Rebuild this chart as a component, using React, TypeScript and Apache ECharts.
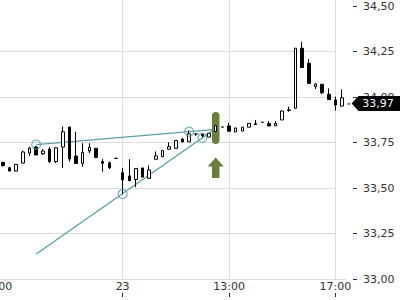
import React, { useEffect, useRef } from 'react';
import * as echarts from 'echarts';

// 15-minute bars: afternoon of the 22nd, then the 23rd
const CATEGORIES = [
  '22 13:00', '22 13:15', '22 13:30', '22 13:45', '22 14:00', '22 14:15', '22 14:30', '22 14:45',
  '22 15:00', '22 15:15', '22 15:30', '22 15:45', '22 16:00', '22 16:15', '22 16:30', '22 16:45',
  '22 17:00', '22 17:15', '22 17:30',
  '23 09:00', '23 09:15', '23 09:30', '23 09:45', '23 10:00', '23 10:15', '23 10:30', '23 10:45',
  '23 11:00', '23 11:15', '23 11:30', '23 11:45', '23 12:00', '23 12:15', '23 12:30', '23 12:45',
  '23 13:00', '23 13:15', '23 13:30', '23 13:45', '23 14:00', '23 14:15', '23 14:30', '23 14:45',
  '23 15:00', '23 15:15', '23 15:30', '23 15:45', '23 16:00', '23 16:15', '23 16:30', '23 16:45',
  '23 17:00', '23 17:15',
];

// candles from '22 13:15' onward (the '22 13:00' bar lies outside the view)
const OPEN = [
  33.641, 33.611, 33.593, 33.637, 33.692, 33.725, 33.688, 33.714, 33.645, 33.725,
  33.835, 33.676, 33.635, 33.703, 33.718, 33.645, 33.639, 33.663,
  33.584, 33.566, 33.547, 33.610, 33.553, 33.658, 33.672, 33.713, 33.718, 33.768,
  33.754, 33.797, 33.794, 33.780, 33.811, 33.835, 33.841, 33.808, 33.813, 33.834,
  33.853, 33.861, 33.855, 33.842, 33.874, 33.929, 33.938, 34.268, 34.185, 34.057,
  34.070, 34.015, 33.984, 33.950,
];
const CLOSE = [
  33.623, 33.593, 33.630, 33.698, 33.720, 33.681, 33.703, 33.645, 33.721, 33.809,
  33.659, 33.635, 33.696, 33.724, 33.668, 33.636, 33.611, 33.663,
  33.544, 33.540, 33.607, 33.560, 33.599, 33.676, 33.706, 33.727, 33.761, 33.753,
  33.798, 33.797, 33.787, 33.801, 33.843, 33.835, 33.812, 33.830, 33.834, 33.855,
  33.849, 33.861, 33.841, 33.855, 33.923, 33.926, 34.268, 34.162, 34.075, 34.071,
  34.023, 33.986, 33.956, 33.996,
];
const LOW = [
  33.617, 33.593, 33.592, 33.636, 33.676, 33.681, 33.681, 33.637, 33.637, 33.610,
  33.645, 33.635, 33.617, 33.691, 33.668, 33.590, 33.604, 33.663,
  33.467, 33.540, 33.505, 33.560, 33.553, 33.658, 33.672, 33.713, 33.718, 33.753,
  33.754, 33.786, 33.777, 33.780, 33.811, 33.835, 33.812, 33.808, 33.813, 33.834,
  33.849, 33.861, 33.841, 33.842, 33.874, 33.919, 33.938, 34.162, 34.075, 34.044,
  34.015, 33.986, 33.925, 33.950,
];
const HIGH = [
  33.643, 33.617, 33.631, 33.705, 33.727, 33.732, 33.714, 33.725, 33.722, 33.838,
  33.836, 33.809, 33.746, 33.746, 33.718, 33.658, 33.645, 33.663,
  33.610, 33.658, 33.607, 33.610, 33.624, 33.701, 33.706, 33.751, 33.761, 33.775,
  33.816, 33.797, 33.802, 33.801, 33.843, 33.835, 33.857, 33.830, 33.834, 33.855,
  33.874, 33.861, 33.868, 33.868, 33.925, 33.947, 34.268, 34.304, 34.209, 34.075,
  34.070, 34.048, 34.002, 34.042,
];

const TICK_LABELS: Record<string, string> = {
  '22 13:00': '13:00',
  '23 09:00': '23',
  '23 13:00': '13:00',
  '23 17:00': '17:00',
};
const V_GRID_TIMES = ['23 09:00', '23 13:00', '23 17:00'];
const H_GRID_PRICES = [33.25, 33.5, 33.75, 34.0, 34.25];
const H_GRID_FROM = '22 13:00';
const H_GRID_TO = '23 17:00';
const TOP_LABEL = 34.5;

const UPPER_TREND = [['22 14:30', 33.738], ['23 12:30', 33.8225]];
const LOWER_TREND = [['22 14:30', 33.137], ['23 12:30', 33.827]];
const TOUCH_POINTS = [['22 14:30', 33.738], ['23 11:30', 33.81], ['23 12:00', 33.776], ['23 09:00', 33.467]];
// [time, marker top, marker bottom, arrow tip, arrow tail]
const SIGNAL = [['23 12:30', 33.918, 33.742, 33.668, 33.555]];
const LAST_PRICE = 33.97;
const LAST_TIME = '23 17:15';

const TEAL = '#5c9fa8';
const GREEN = '#6c7e3b';
const GRID_COLOR = '#dcdcdc';
const FONT = 'DejaVu Sans';

export default function App() {
  const ref = useRef<HTMLDivElement>(null);

  useEffect(() => {
    if (!ref.current) return;
    const chart = echarts.init(ref.current, undefined, { renderer: 'svg' });

    const candleData = CATEGORIES.map((c, k) =>
      k === 0 ? ['-', '-', '-', '-'] : [OPEN[k - 1], CLOSE[k - 1], LOW[k - 1], HIGH[k - 1]]
    );
    const showTick = (index: number) => TICK_LABELS[CATEGORIES[index]] !== undefined;

    const option: any = {
      animation: false,
      backgroundColor: '#fff',
      grid: {
        left: -7.05,
        width: 352.45,
        top: -39.5,
        bottom: 21,
        containLabel: false,
        outerBoundsMode: 'none',
      },
      xAxis: [
        {
          type: 'category',
          data: CATEGORIES,
          boundaryGap: true,
          axisLine: { show: true, lineStyle: { color: GRID_COLOR, width: 1 } },
          axisTick: { show: false },
          splitLine: { show: false },
          axisLabel: {
            interval: showTick,
            formatter: (v: string) => TICK_LABELS[v] ?? '',
            margin: 2,
            color: '#333',
            fontSize: 11,
            fontFamily: FONT,
          },
        },
        {
          type: 'category',
          data: CATEGORIES,
          boundaryGap: true,
          position: 'bottom',
          offset: 14,
          axisLine: { show: false },
          axisLabel: { show: false },
          splitLine: { show: false },
          axisTick: {
            show: true,
            interval: showTick,
            alignWithLabel: true,
            length: 4,
            lineStyle: { color: '#333', width: 1 },
          },
        },
      ],
      yAxis: {
        type: 'value',
        position: 'right',
        offset: 7.6,
        min: 33,
        max: 34.75,
        interval: 0.25,
        axisLine: { show: false },
        axisTick: { show: true, length: 4, lineStyle: { color: '#333', width: 1 } },
        splitLine: { show: false },
        axisLabel: {
          margin: 10,
          color: '#333',
          fontSize: 11,
          fontFamily: FONT,
          formatter: (v: number) => (v > TOP_LABEL + 1e-9 ? '' : v.toFixed(2).replace('.', ',')),
        },
      },
      series: [
        {
          type: 'line',
          data: [],
          z: 1,
          markLine: {
            silent: true,
            z: 1,
            symbol: 'none',
            animation: false,
            label: { show: false },
            lineStyle: { color: GRID_COLOR, width: 1, type: 'solid' },
            data: [
              ...V_GRID_TIMES.map((t) => ({ xAxis: t })),
              ...H_GRID_PRICES.map((p) => [{ coord: [H_GRID_FROM, p] }, { coord: [H_GRID_TO, p] }]),
            ],
          },
        },
        {
          type: 'line',
          data: UPPER_TREND,
          z: 2,
          symbol: 'none',
          silent: true,
          lineStyle: { color: TEAL, width: 1.3 },
        },
        {
          type: 'line',
          data: LOWER_TREND,
          z: 2,
          symbol: 'none',
          silent: true,
          lineStyle: { color: TEAL, width: 1.3 },
        },
        {
          type: 'custom',
          z: 3,
          silent: true,
          data: SIGNAL,
          encode: { x: 0, y: [1, 2, 3, 4] },
          renderItem: (params: any, api: any) => {
            const t = api.value(0);
            const top = api.coord([t, api.value(1)]);
            const bot = api.coord([t, api.value(2)]);
            const tip = api.coord([t, api.value(3)]);
            const tail = api.coord([t, api.value(4)]);
            const cx = top[0];
            const w = 7.5;
            const hw = 8;
            const hh = 9;
            return {
              type: 'group',
              children: [
                {
                  type: 'rect',
                  shape: { x: cx - w / 2, y: top[1], width: w, height: bot[1] - top[1], r: w / 2 },
                  style: { fill: GREEN },
                },
                {
                  type: 'polygon',
                  shape: {
                    points: [
                      [cx, tip[1]],
                      [cx + hw, tip[1] + hh],
                      [cx + w / 2, tip[1] + hh],
                      [cx + w / 2, tail[1]],
                      [cx - w / 2, tail[1]],
                      [cx - w / 2, tip[1] + hh],
                      [cx - hw, tip[1] + hh],
                    ],
                  },
                  style: { fill: GREEN },
                },
              ],
            };
          },
        },
        {
          type: 'candlestick',
          z: 4,
          barWidth: 3,
          data: candleData,
          itemStyle: {
            color: '#ffffff',
            color0: '#000000',
            borderColor: '#000000',
            borderColor0: '#000000',
            borderWidth: 1,
          },
        },
        {
          type: 'scatter',
          z: 5,
          silent: true,
          data: TOUCH_POINTS,
          symbol: 'circle',
          symbolSize: 9,
          itemStyle: { color: 'rgba(0,0,0,0)', borderColor: TEAL, borderWidth: 1.2 },
        },
        {
          type: 'custom',
          z: 6,
          silent: true,
          data: [[LAST_TIME, LAST_PRICE]],
          encode: { x: 0, y: 1 },
          renderItem: (params: any, api: any) => {
            const p = api.coord([api.value(0), api.value(1)]);
            const x = p[0];
            const y = p[1] + 1;
            return {
              type: 'group',
              children: [
                {
                  type: 'line',
                  shape: { x1: x + 5.5, y1: y + 0.5, x2: x + 8, y2: y + 0.5 },
                  style: { stroke: '#000', lineWidth: 1 },
                },
                {
                  type: 'polygon',
                  shape: {
                    points: [
                      [x + 9.5, y],
                      [x + 16.5, y - 7.5],
                      [x + 64, y - 7.5],
                      [x + 64, y + 7.5],
                      [x + 16.5, y + 7.5],
                    ],
                  },
                  style: { fill: '#000' },
                },
                {
                  type: 'text',
                  style: {
                    text: LAST_PRICE.toFixed(2).replace('.', ','),
                    x: x + 36,
                    y: y,
                    fill: '#fff',
                    fontSize: 11,
                    fontFamily: FONT,
                    align: 'center',
                    verticalAlign: 'middle',
                  },
                },
              ],
            };
          },
        },
      ],
    };

    chart.setOption(option);
    return () => chart.dispose();
  }, []);

  return (
    <div
      ref={ref}
      style={{ position: 'absolute', left: 0, top: 0, width: 400, height: 300, background: '#fff' }}
    />
  );
}
